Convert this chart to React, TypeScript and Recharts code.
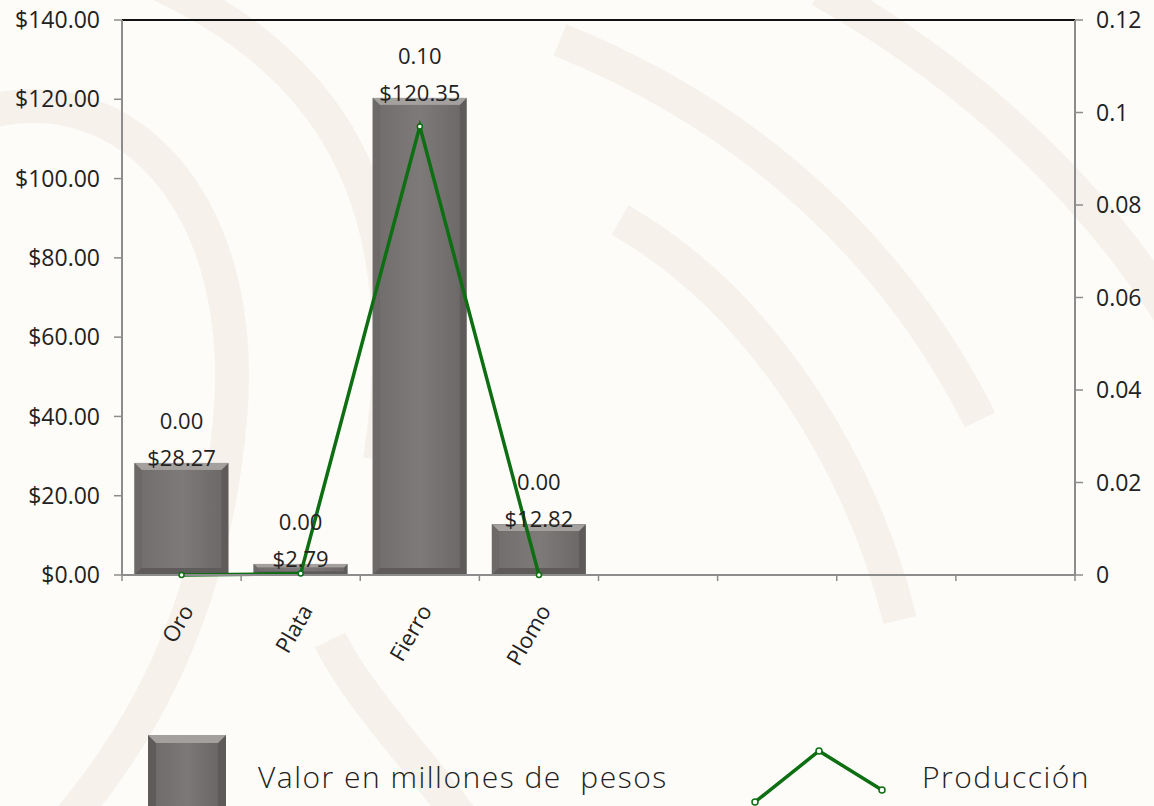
import { ComposedChart, Bar, Line, XAxis, YAxis, LabelList, Legend, ReferenceLine } from 'recharts';

const categories = ['Oro', 'Plata', 'Fierro', 'Plomo', '', '', '', ''];
const valorMillones = [28.27, 2.79, 120.35, 12.82, null, null, null, null];
const produccion = [0.0, 0.0003, 0.097, 0.0, null, null, null, null];
const valorTicks = [0, 20, 40, 60, 80, 100, 120, 140];
const produccionTicks = [0, 0.02, 0.04, 0.06, 0.08, 0.1, 0.12];

const data = categories.map((name, i) => ({
  name,
  valor: valorMillones[i],
  produccion: produccion[i],
}));

const FONT = "'Open Sans', sans-serif";
const TEXT = '#222';
const AXIS = '#8c8c8c';
const GREEN = '#0d6e12';

// bar with a soft bevel, like the office 3d preset
function BevelBar(props: any) {
  const { x, y, width, height } = props;
  if (height == null || height <= 0) return null;
  const b = Math.min(7, height / 3);
  return (
    <g>
      <rect x={x} y={y} width={width} height={height} fill="#5e5b5a" />
      <polygon
        points={`${x},${y} ${x + width},${y} ${x + width - b},${y + b} ${x + b},${y + b}`}
        fill="#a3a09e"
      />
      <polygon
        points={`${x},${y} ${x + b},${y + b} ${x + b},${y + height - b} ${x},${y + height}`}
        fill="#6c6968"
      />
      <rect x={x + b} y={y + b} width={Math.max(0, width - 2 * b)} height={Math.max(0, height - 2 * b)} fill="url(#barBody)" />
    </g>
  );
}

function BarLabels(props: any) {
  const { x, y, width, value, index } = props;
  if (value == null) return null;
  const cx = x + width / 2;
  const prod = produccion[index];
  return (
    <g style={{ fontFamily: FONT, fontSize: 22 }} fill={TEXT}>
      <text x={cx} y={y + 3} textAnchor="middle">{`$${Number(value).toFixed(2)}`}</text>
      {prod != null && (
        <text x={cx} y={y - 34} textAnchor="middle">{prod.toFixed(2)}</text>
      )}
    </g>
  );
}

function CategoryTick(props: any) {
  const { x, y, payload, index } = props;
  const half = payload.offset ?? 0;
  const last = index === categories.length - 1;
  return (
    <g>
      <line x1={x - half} x2={x - half} y1={y} y2={y + 6} stroke={AXIS} strokeWidth={1.5} />
      {last && <line x1={x + half} x2={x + half} y1={y} y2={y + 6} stroke={AXIS} strokeWidth={1.5} />}
      {payload.value && (
        <text
          x={x + 5}
          y={y + 31}
          transform={`rotate(-60, ${x + 5}, ${y + 31})`}
          textAnchor="end"
          dominantBaseline="central"
          fill={TEXT}
          style={{ fontFamily: FONT, fontSize: 22 }}
        >
          {payload.value}
        </text>
      )}
    </g>
  );
}

function ChartLegend() {
  const label = { position: 'absolute' as const, top: 50, whiteSpace: 'pre' as const, letterSpacing: 1.5 };
  return (
    <div style={{ position: 'relative', width: 1154, height: 100, fontFamily: FONT, fontSize: 30, color: TEXT, fontWeight: 300 }}>
      <svg width={80} height={82} style={{ position: 'absolute', left: 147, top: 28 }}>
        <defs>
          <linearGradient id="legBody" x1="0" y1="0" x2="1" y2="0">
            <stop offset="0" stopColor="#6f6c6b" />
            <stop offset="0.5" stopColor="#7b7877" />
            <stop offset="1" stopColor="#6a6766" />
          </linearGradient>
        </defs>
        <rect x={1} y={1} width={78} height={80} fill="#5e5b5a" />
        <polygon points="1,1 79,1 71,9 9,9" fill="#a3a09e" />
        <rect x={9} y={9} width={62} height={72} fill="url(#legBody)" />
      </svg>
      <span style={{ ...label, left: 258 }}>Valor en millones de  pesos</span>
      <svg width={140} height={64} style={{ position: 'absolute', left: 748, top: 40 }}>
        <polyline points="7,56 71,5 134,44" fill="none" stroke={GREEN} strokeWidth={3.5} />
        {[[7, 56], [71, 5], [134, 44]].map(([px, py], i) => (
          <circle key={i} cx={px} cy={py} r={3} fill="#fff" stroke={GREEN} strokeWidth={1.5} />
        ))}
      </svg>
      <span style={{ ...label, left: 922 }}>Producción</span>
    </div>
  );
}

export default function App() {
  return (
    <div style={{ position: 'relative', width: 1154, height: 806, overflow: 'hidden', background: '#fdfcf9' }}>
      <style>{'body{margin:0}'}</style>
      {/* faint watermark */}
      <svg width={1154} height={806} style={{ position: 'absolute', left: 0, top: 0 }}>
        <g fill="none" stroke="#f6f2eb" strokeWidth={34}>
          <path d="M-40 120 C 120 60, 250 200, 230 420 S 120 760, 60 830" />
          <path d="M150 -20 C 330 60, 420 200, 380 460" />
          <path d="M560 40 C 760 120, 900 260, 980 420" />
          <path d="M620 220 C 760 300, 860 460, 900 620" />
          <path d="M820 -10 C 980 80, 1100 200, 1180 330" />
          <path d="M330 640 C 360 700, 420 760, 470 830" />
        </g>
      </svg>
      <div style={{ position: 'absolute', left: 0, top: 0 }}>
        <ComposedChart width={1154} height={806} data={data} margin={{ top: 20, right: 0, bottom: 0, left: 0 }} barCategoryGap="10.5%">
          <defs>
            <linearGradient id="barBody" x1="0" y1="0" x2="1" y2="0">
              <stop offset="0" stopColor="#716e6d" />
              <stop offset="0.5" stopColor="#7d7a79" />
              <stop offset="1" stopColor="#6c6968" />
            </linearGradient>
          </defs>
          <XAxis
            dataKey="name"
            interval={0}
            height={131}
            tickLine={false}
            tickSize={0}
            tickMargin={0}
            axisLine={{ stroke: AXIS, strokeWidth: 2 }}
            tick={<CategoryTick />}
          />
          <YAxis
            yAxisId="left"
            width={122}
            domain={[0, 140]}
            ticks={valorTicks}
            tickFormatter={(v: number) => `$${v.toFixed(2)}`}
            tickSize={8}
            tickMargin={14}
            axisLine={{ stroke: AXIS, strokeWidth: 2 }}
            tickLine={{ stroke: AXIS, strokeWidth: 1.5 }}
            tick={{ fill: TEXT, fontSize: 23, fontFamily: FONT }}
          />
          <YAxis
            yAxisId="right"
            orientation="right"
            width={79}
            domain={[0, 0.12]}
            ticks={produccionTicks}
            tickFormatter={(v: number) => String(Number(v.toFixed(2)))}
            tickSize={8}
            tickMargin={13}
            axisLine={{ stroke: AXIS, strokeWidth: 2 }}
            tickLine={{ stroke: AXIS, strokeWidth: 1.5 }}
            tick={{ fill: TEXT, fontSize: 23, fontFamily: FONT, textAnchor: 'start' }}
          />
          <ReferenceLine yAxisId="left" y={140} stroke="#111" strokeWidth={2} />
          <Bar yAxisId="left" dataKey="valor" name="Valor en millones de  pesos" shape={<BevelBar />} isAnimationActive={false}>
            <LabelList dataKey="valor" content={<BarLabels />} />
          </Bar>
          <Line
            yAxisId="right"
            dataKey="produccion"
            name="Producción"
            stroke={GREEN}
            strokeWidth={3.5}
            dot={{ r: 2.5, fill: '#fff', stroke: GREEN, strokeWidth: 1.5 }}
            isAnimationActive={false}
          />
          <Legend verticalAlign="bottom" content={<ChartLegend />} />
        </ComposedChart>
      </div>
    </div>
  );
}
